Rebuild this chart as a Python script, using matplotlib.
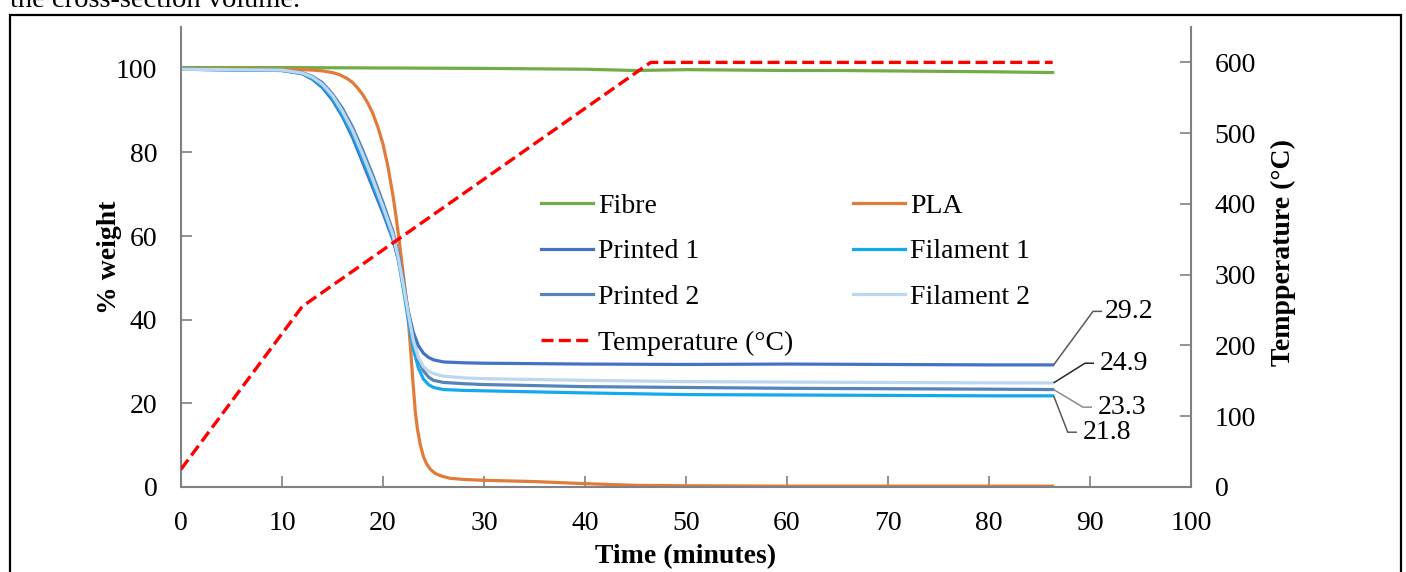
import matplotlib
matplotlib.use("Agg")
import matplotlib.pyplot as plt
from matplotlib.patches import Rectangle

plt.rcParams['font.family'] = ['Liberation Serif', 'DejaVu Serif']

# ---------------- data ----------------
t_fibre = [0, 10, 20, 30, 40, 45, 50, 55, 60, 65, 70, 75, 80, 86.3]
w_fibre = [100.3, 100.3, 100.2, 100.1, 99.9, 99.6, 99.8, 99.7, 99.6, 99.6, 99.5, 99.4, 99.3, 99.1]

t_pla = [0, 10, 12, 13, 14, 15, 15.7, 16.5, 17, 17.5, 18, 18.5, 19, 19.5, 20, 20.5, 21,
         21.3, 21.6, 22, 22.4, 22.7, 23, 23.2, 23.4, 23.7, 24, 24.3, 24.7, 25.2, 25.8,
         26.6, 28, 30, 35, 40, 45, 50, 60, 70, 86.3]
w_pla = [100.0, 99.9, 99.8, 99.7, 99.5, 99.1, 98.6, 97.6, 96.7, 95.4, 93.8, 91.8, 89.3,
         86, 82, 76.5, 69.5, 64.5, 59, 51, 43, 34, 24, 18, 14, 10, 7.3, 5.6, 4.2, 3.2,
         2.6, 2.1, 1.8, 1.6, 1.3, 0.8, 0.4, 0.3, 0.2, 0.2, 0.2]

t_blue = [0, 10, 12, 13, 14, 15, 16, 17, 18, 19, 20, 21, 21.5, 22, 22.5, 23, 23.5, 24,
          24.5, 25, 26, 28, 30, 40, 50, 60, 70, 80, 86.3]
w_printed1 = [99.9, 99.6, 98.8, 97.5, 95.5, 92.5, 88.5, 83.5, 77.5, 71.5, 65.5, 59,
              54.5, 48.5, 42, 37, 33.8, 32, 31, 30.4, 29.9, 29.7, 29.6, 29.4, 29.3,
              29.4, 29.3, 29.2, 29.2]
w_filament1 = [99.9, 99.6, 98.9, 97.7, 95.8, 93, 89, 84.3, 78.5, 72.5, 66.3, 59.5,
               54.5, 47.5, 40, 33, 28.5, 25.8, 24.5, 23.8, 23.3, 23.1, 23.0, 22.5,
               22.1, 22.0, 21.9, 21.8, 21.8]
w_printed2 = [99.9, 99.7, 99.1, 98.2, 96.7, 94, 90.5, 86, 80.5, 74.5, 68, 61, 56,
              49.5, 42, 35.5, 30.5, 27.8, 26.3, 25.5, 25.0, 24.7, 24.5, 24.0, 23.8,
              23.6, 23.5, 23.4, 23.3]
w_filament2 = [99.9, 99.7, 99.0, 98.0, 96.3, 93.6, 89.8, 85.2, 79.5, 73.5, 67, 60.2,
               55, 48.5, 41.5, 35, 31, 28.8, 27.7, 27.1, 26.5, 26.1, 25.9, 25.5, 25.2,
               25.1, 25.0, 24.9, 24.9]

t_temp = [0, 12, 46.5, 86.3]
temp_c = [25, 255, 600, 600]

end_time = 86.3
end_labels = ["29.2", "24.9", "23.3", "21.8"]
end_values = [29.2, 24.9, 23.3, 21.8]
# leader kink (time, %) and label anchor (time, %)
kink_t = [90.3, 89.5, 89.3, 87.8]
kink_w = [42.0, 29.6, 19.1, 13.1]
label_t = [91.5, 91.0, 90.8, 89.3]
leader_colors = ['#595959', '#262626', '#8c8c8c', '#595959']

x_ticks = list(range(0, 101, 10))
y_ticks = list(range(0, 101, 20))
t_ticks = list(range(0, 601, 100))

# ---------------- figure ----------------
W, H = 1406, 572
fig = plt.figure(figsize=(W / 100, H / 100), dpi=100)
ax = fig.add_axes([181 / W, (H - 487) / H, 1010 / W, 460 / H])
ax2 = ax.twinx()

fs = 20
spine_col = '#808080'

l_fibre, = ax.plot(t_fibre, w_fibre, color='#70AD47', lw=2.3, label='Fibre')
l_pla, = ax.plot(t_pla, w_pla, color='#E07B39', lw=2.3, label='PLA')
l_p1, = ax.plot(t_blue, w_printed1, color='#4472C4', lw=2.3, label='Printed 1')
l_f1, = ax.plot(t_blue, w_filament1, color='#14A9EC', lw=2.3, label='Filament 1')
l_p2, = ax.plot(t_blue, w_printed2, color='#5683B8', lw=2.3, label='Printed 2')
l_f2, = ax.plot(t_blue, w_filament2, color='#BDD7EE', lw=2.3, label='Filament 2')
l_temp, = ax2.plot(t_temp, temp_c, color='#FF0000', lw=2.4, dashes=(3.6, 1.6),
                   label='Temperature (°C)')

ax.set_xlim(0, 100)
ax.set_ylim(0, 110)
ax2.set_ylim(0, 650)
ax.set_xticks(x_ticks)
ax.set_yticks(y_ticks)
ax2.set_yticks(t_ticks)

for a in (ax, ax2):
    a.spines['top'].set_visible(False)
    for s in ('left', 'right', 'bottom'):
        a.spines[s].set_color(spine_col)
        a.spines[s].set_linewidth(1.5)
ax.spines['right'].set_visible(False)
ax2.spines['left'].set_visible(False)
ax2.spines['bottom'].set_visible(False)

ax.tick_params(axis='both', direction='in', length=8, width=1.2, color=spine_col,
               labelsize=fs, pad=17)
ax.tick_params(axis='x', pad=17)
ax2.tick_params(axis='y', direction='in', length=8, width=1.2, color=spine_col,
                labelsize=fs, pad=17)

ax.set_xlabel('Time (minutes)', fontsize=fs, fontweight='bold', va='center')
ax.xaxis.set_label_coords(0.5, (487 - 557) / 460)
ax.set_ylabel('% weight', fontsize=fs, fontweight='bold', va='center')
ax.yaxis.set_label_coords((110 - 181) / 1010, 0.5)
ax2.set_ylabel('Tempperature (°C)', fontsize=fs, fontweight='bold', va='center')
ax2.yaxis.set_label_coords((1283 - 181) / 1010, (487 - 252) / 460)

# end-value labels with leaders
for lab, v, kt, kw, lt, c in zip(end_labels, end_values, kink_t, kink_w, label_t, leader_colors):
    ax.plot([end_time + 0.1, kt, kt + 0.9], [v, kw, kw], color=c, lw=1.1,
            clip_on=False, solid_capstyle='butt')
    ax.text(lt, kw, lab, fontsize=fs, ha='left', va='center', clip_on=False)

# legend (column-major order)
handles = [l_fibre, l_p1, l_p2, l_temp, l_pla, l_f1, l_f2]
leg = ax2.legend(handles=handles, labels=[h.get_label() for h in handles],
                 ncol=2, loc='upper left', bbox_to_anchor=(0.3564, 0.639),
                 frameon=False, fontsize=fs, handlelength=1.87, handletextpad=0.18,
                 columnspacing=2.15, labelspacing=0.73, borderpad=0, borderaxespad=0)

# page text and frame
fig.text(10 / W, 1 - 7 / H, 'the cross-section volume.', fontsize=20.5,
         ha='left', va='baseline')
fig.add_artist(Rectangle((9.5 / W, -0.05), (1401 - 9.5) / W, 1.05 - 14.5 / H,
                         transform=fig.transFigure, fill=False, edgecolor='black',
                         lw=1.6, clip_on=False))

fig.savefig('out.png', dpi=100)
